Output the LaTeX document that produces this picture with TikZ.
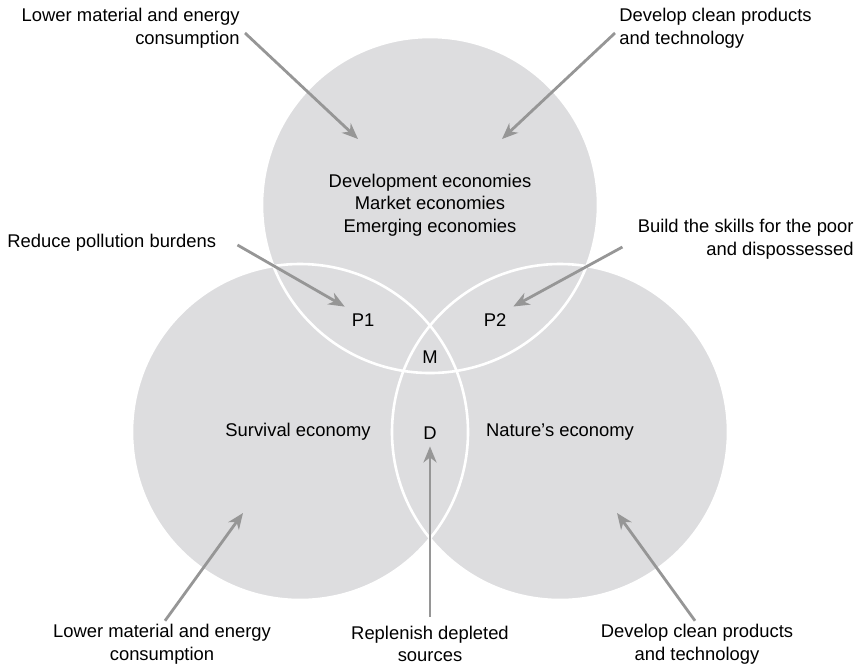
\documentclass[tikz,border=0pt]{standalone}
\usepackage{fontspec}
\setmainfont{Liberation Sans}
\usetikzlibrary{arrows.meta, positioning}

\definecolor{venngray}{RGB}{221,221,223}
\definecolor{arrowgray}{RGB}{150,150,150}

\begin{document}
\begin{tikzpicture}[x=0.5pt, y=-0.5pt, every node/.style={font=\fontsize{9.2pt}{11.25pt}\selectfont}]
% Styles
\tikzstyle{econ} = [circle, fill=venngray, minimum size=168pt, inner sep=0pt]
\tikzstyle{rim} = [draw=white, line width=1.3pt]
\tikzstyle{remark} = [inner sep=1pt, align=center]
\tikzstyle{arrow} = [draw=arrowgray, line width=1.4pt, -{Stealth[length=8pt, width=6.5pt, inset=2.5pt]}]

\useasboundingbox (0,0) rectangle (857,666);

% Circles
\node (dev) [econ] at (430,205) {};
\node (surv) [econ] at (300,432) {};
\node (nat) [econ] at (560,432) {};
\foreach \c in {dev,surv,nat}
  \draw [rim] (\c.center) circle [radius=84pt];

% Region texts
\node (devtext) [align=center] at (430,205) {Development economies\\Market economies\\Emerging economies};
\node (survtext) at (298,432) {Survival economy};
\node (nattext) at (560,432) {Nature's economy};
\node (p1) at (363,320) {P1};
\node (p2) at (495,320) {P2};
\node (m) at (430,357) {M};
\node (d) at (430,433) {D};

% Outer labels
\node (lowerTop) [remark, anchor=east, align=right] at (242,28) {Lower material and energy\\consumption};
\node (cleanTop) [remark, anchor=west, align=left] at (617,28) {Develop clean products\\and technology};
\node (pollution) [remark, anchor=west] at (5,243) {Reduce pollution burdens};
\node (skills) [remark, anchor=east, align=right] at (856,239) {Build the skills for the poor\\and dispossessed};
\node (lowerBot) [remark] at (162,644) {Lower material and energy\\consumption};
\node (replenish) [remark] at (430,644) {Replenish depleted\\sources};
\node (cleanBot) [remark] at (697,644) {Develop clean products\\and technology};

% Arrows
\coordinate (devTipL) at (358,139);
\coordinate (devTipR) at (502,139);
\coordinate (survTip) at (243,513);
\coordinate (natTip) at (617,513);
\draw [arrow] ([shift={(3,5)}]lowerTop.east) -- (devTipL);
\draw [arrow] ([shift={(-2,5)}]cleanTop.west) -- (devTipR);
\draw [arrow] ([shift={(19,2)}]pollution.east) -- (p1.north west);
\draw [arrow] ([shift={(-13,8)}]skills.west) -- (p2.north east);
\draw [arrow] ([shift={(3,-1)}]lowerBot.north) -- (survTip);
\draw [arrow] ([shift={(0,-7)}]replenish.north) -- (d.south);
\draw [arrow] ([shift={(-2,-1)}]cleanBot.north) -- (natTip);
\end{tikzpicture}
\end{document}
